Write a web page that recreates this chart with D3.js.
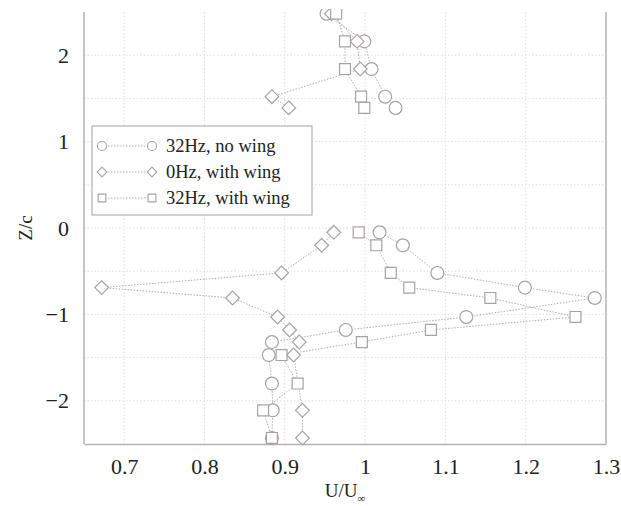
<!DOCTYPE html>
<html>
<head>
<meta charset="utf-8">
<script src="https://cdn.jsdelivr.net/npm/d3@7/dist/d3.min.js"></script>
<style>
  html, body { margin: 0; padding: 0; background: #fff; }
  svg text { font-family: "Liberation Serif", "DejaVu Serif", serif; fill: #222; }
</style>
</head>
<body>
<svg id="chart" width="621" height="506"></svg>
<script>
// Z/c stations (null = break between upper and lower traverse)
const zNoWing   = [2.48, 2.16, 1.84, 1.52, 1.39, null, -0.05, -0.2, -0.52, -0.69, -0.81, -1.03, -1.18, -1.32, -1.47, -1.80, -2.11, -2.43];
const uNoWing   = [0.952, 0.999, 1.008, 1.025, 1.038, null, 1.018, 1.047, 1.090, 1.199, 1.286, 1.126, 0.976, 0.884, 0.880, 0.884, 0.885, 0.884];

const zZeroWing = [2.48, 2.16, 1.84, 1.52, 1.39, null, -0.05, -0.2, -0.52, -0.69, -0.81, -1.03, -1.18, -1.32, -1.47, -2.11, -2.43];
const uZeroWing = [0.958, 0.990, 0.994, 0.884, 0.905, null, 0.961, 0.946, 0.896, 0.672, 0.835, 0.891, 0.906, 0.918, 0.911, 0.922, 0.922];

const zWing     = [2.48, 2.16, 1.84, 1.52, 1.39, null, -0.05, -0.2, -0.52, -0.69, -0.81, -1.03, -1.18, -1.32, -1.47, -1.80, -2.11, -2.43];
const uWing     = [0.964, 0.975, 0.975, 0.995, 0.999, null, 0.992, 1.014, 1.032, 1.055, 1.156, 1.262, 1.082, 0.996, 0.896, 0.916, 0.873, 0.884];

const seriesNames = ["32Hz, no wing", "0Hz, with wing", "32Hz, with wing"];
const xTicks = [0.7, 0.8, 0.9, 1, 1.1, 1.2, 1.3];
const yTicks = [-2, -1, 0, 1, 2];
const yGrid  = [-2, -1.5, -1, -0.5, 0, 0.5, 1, 1.5, 2];

const margin = { top: 12, right: 15, bottom: 62, left: 84 };
const W = 621, H = 506;
const width = W - margin.left - margin.right;
const height = H - margin.top - margin.bottom;

const svg = d3.select("#chart");
const g = svg.append("g").attr("transform", "translate(" + margin.left + "," + margin.top + ")");

const x = d3.scaleLinear().domain([0.65, 1.3]).range([0, width]);
const y = d3.scaleLinear().domain([-2.5, 2.5]).range([height, 0]);

const axisColor = "#b8b0b0";
const gridColor = "#e2dcdc";
const markColor = "#a8a2a2";

// grid
g.append("g").selectAll("line").data(xTicks.filter(d => d < 1.3)).enter().append("line")
  .attr("x1", d => x(d)).attr("x2", d => x(d)).attr("y1", 0).attr("y2", height)
  .attr("stroke", gridColor).attr("stroke-dasharray", "1.5,2");
g.append("g").selectAll("line").data(yGrid).enter().append("line")
  .attr("x1", 0).attr("x2", width).attr("y1", d => y(d)).attr("y2", d => y(d))
  .attr("stroke", gridColor).attr("stroke-dasharray", "1.5,2");

// axes
const xAxis = g.append("g").attr("transform", "translate(0," + height + ")")
  .call(d3.axisBottom(x).tickValues(xTicks).tickSize(0).tickPadding(14).tickFormat(d3.format("")));
xAxis.select(".domain").attr("stroke", axisColor).attr("stroke-width", 1.5);
xAxis.selectAll("text").style("font-size", "22px").attr("fill", "#222");

const yAxis = g.append("g")
  .call(d3.axisLeft(y).tickValues(yTicks).tickSize(0).tickPadding(15).tickFormat(d3.format("d")));
yAxis.select(".domain").remove();
yAxis.selectAll("text").style("font-size", "22px").attr("fill", "#222");

g.append("line").attr("x1", 0).attr("x2", 0).attr("y1", 0).attr("y2", height)
  .attr("stroke", axisColor).attr("stroke-width", 1.5);
g.append("line").attr("x1", width).attr("x2", width).attr("y1", 0).attr("y2", height)
  .attr("stroke", axisColor).attr("stroke-width", 1.5);

// clip marks at top edge
svg.append("defs").append("clipPath").attr("id", "clip")
  .append("rect").attr("x", -10).attr("y", -3).attr("width", width + 20).attr("height", height + 20);

const plot = g.append("g").attr("clip-path", "url(#clip)");

const symbols = [d3.symbolCircle, d3.symbolDiamond2, d3.symbolSquare];
const sizes = [130, 120, 120];
const series = [
  { z: zNoWing, u: uNoWing },
  { z: zZeroWing, u: uZeroWing },
  { z: zWing, u: uWing }
];

const line = d3.line()
  .defined(d => d.u !== null)
  .x(d => x(d.u)).y(d => y(d.z));

series.forEach((s, i) => {
  const pts = s.z.map((z, k) => ({ z: z, u: s.u[k] }));
  plot.append("path").datum(pts)
    .attr("d", line)
    .attr("fill", "none").attr("stroke", "#b4aeae").attr("stroke-width", 1)
    .attr("stroke-dasharray", "1.5,1.5");
});

series.forEach((s, i) => {
  const pts = s.z.map((z, k) => ({ z: z, u: s.u[k] })).filter(d => d.u !== null);
  plot.append("g").selectAll("path").data(pts).enter().append("path")
    .attr("transform", d => "translate(" + x(d.u) + "," + y(d.z) + ")")
    .attr("d", d3.symbol().type(symbols[i]).size(sizes[i]))
    .attr("fill", "#fff").attr("stroke", markColor).attr("stroke-width", 1.2);
});

// legend
const leg = svg.append("g").attr("transform", "translate(92,126)");
leg.append("rect").attr("width", 220).attr("height", 89)
  .attr("fill", "#fff").attr("stroke", axisColor).attr("stroke-width", 1.2);
seriesNames.forEach((name, i) => {
  const ly = 20 + i * 26;
  leg.append("line").attr("x1", 10).attr("x2", 60).attr("y1", ly).attr("y2", ly)
    .attr("stroke", "#b4aeae").attr("stroke-dasharray", "1.5,1.5");
  [10, 60].forEach(lx => {
    leg.append("path").attr("transform", "translate(" + lx + "," + ly + ")")
      .attr("d", d3.symbol().type(symbols[i]).size(sizes[i] * 0.5))
      .attr("fill", "#fff").attr("stroke", markColor).attr("stroke-width", 1.1);
  });
  leg.append("text").attr("x", 74).attr("y", ly + 6).style("font-size", "18.5px").text(name);
});

// axis titles
const xt = svg.append("text").attr("x", margin.left + width / 2).attr("y", 497)
  .attr("text-anchor", "middle").style("font-size", "19px");
xt.append("tspan").text("U/U");
xt.append("tspan").attr("dy", 5).style("font-size", "11px").text("\u221e");

svg.append("text").attr("transform", "translate(32," + (margin.top + y(0)) + ") rotate(-90)")
  .attr("text-anchor", "middle").style("font-size", "19px").text("Z/c");
</script>
</body>
</html>
